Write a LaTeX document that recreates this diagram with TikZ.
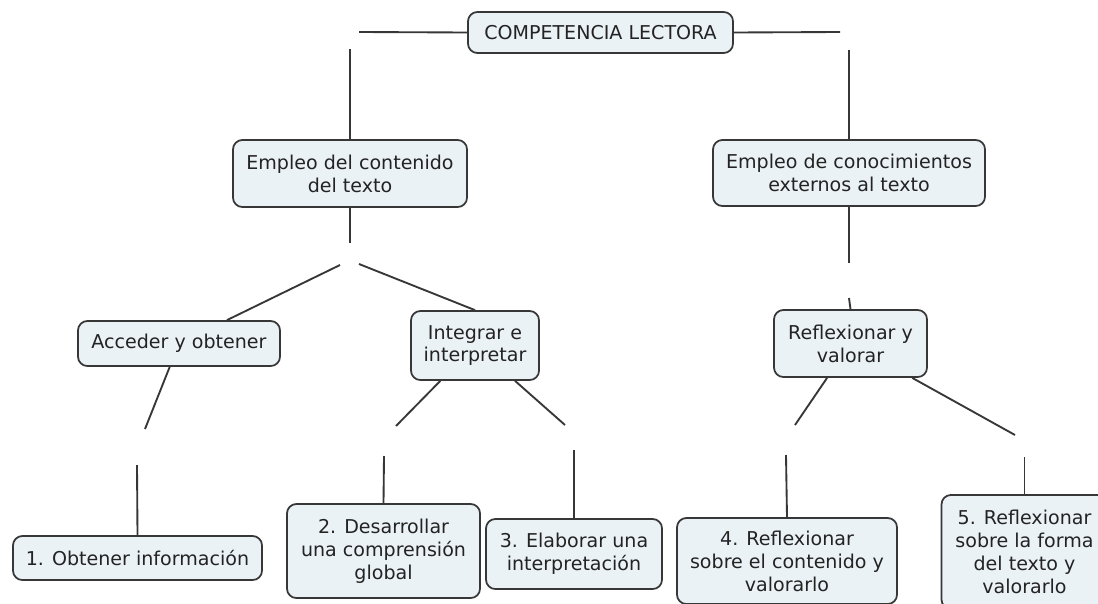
\documentclass[tikz,border=0pt]{standalone}
\usepackage{fontspec}
\setmainfont{DejaVu Sans}
\definecolor{boxfill}{RGB}{235,242,246}
\definecolor{boxline}{RGB}{55,55,55}
\definecolor{txt}{RGB}{35,35,35}
\begin{document}
\begin{tikzpicture}[x=0.75pt,y=-0.75pt,
  concept/.style={draw=boxline,fill=boxfill,line width=1.3pt,rounded corners=7pt,
    align=center,inner sep=0pt,text=txt,font=\fontsize{14.3}{17.2}\selectfont},
  link/.style={draw=boxline,line width=1.4pt}]
\useasboundingbox (0,0) rectangle (1098,603);
\fill[white] (0,0) rectangle (1098,603);
% concepts
\node[concept,minimum width=198.75pt,minimum height=30.75pt] (top) at (600.5,32.5) {COMPETENCIA LECTORA};
\node[concept,minimum width=175.5pt,minimum height=50.25pt] (emp1) at (350,173.5) {Empleo del contenido\\del texto};
\node[concept,minimum width=204pt,minimum height=49.5pt] (emp2) at (849,173) {Empleo de conocimientos\\externos al texto};
\node[concept,minimum width=151.5pt,minimum height=33.75pt] (acc) at (179,343.5) {Acceder y obtener};
\node[concept,minimum width=96pt,minimum height=51.75pt] (int) at (475,345.5) {Integrar e\\interpretar};
\node[concept,minimum width=114.75pt,minimum height=50.25pt] (ref) at (850.5,343.5) {Reflexionar y\\valorar};
\node[concept,minimum width=186.75pt,minimum height=33pt] (n1) at (137.5,558) {1. Obtener información};
\node[concept,minimum width=144.75pt,minimum height=70.5pt] (n2) at (383.5,551) {2. Desarrollar\\una comprensión\\global};
\node[concept,minimum width=132pt,minimum height=52.5pt] (n3) at (574,554) {3. Elaborar una\\interpretación};
\node[concept,minimum width=165pt,minimum height=64.5pt] (n4) at (787,561) {4. Reflexionar\\sobre el contenido y\\valorarlo};
\node[concept,minimum width=124.5pt,minimum height=85.5pt] (n5) at (1024.5,552) {5. Reflexionar\\sobre la forma\\del texto y\\valorarlo};
% free ends of connectors (empty linking phrases)
\coordinate (la1) at (359,32);
\coordinate (la2) at (350,49);
\coordinate (lb1) at (840,32);
\coordinate (lb2) at (849,50);
\coordinate (lc1) at (350,243);
\coordinate (lc2) at (340,265);
\coordinate (lc3) at (359,264);
\coordinate (ld1) at (849,263);
\coordinate (ld2) at (849,298);
\coordinate (le1) at (145,429);
\coordinate (le2) at (137,465);
\coordinate (lf1) at (396,426);
\coordinate (lf2) at (384,456);
\coordinate (lg1) at (565,425);
\coordinate (lg2) at (574,450);
\coordinate (lh1) at (795,425);
\coordinate (lh2) at (786,455);
\coordinate (li1) at (1015,435);
\coordinate (li2) at (1024.5,457);
% connectors
\draw[link] (top.west) -- (la1);
\draw[link] (la2) -- (emp1.north);
\draw[link] (top.east) -- (lb1);
\draw[link] (lb2) -- (emp2.north);
\draw[link] (emp1.south) -- (lc1);
\draw[link] (lc2) -- (acc);
\draw[link] (lc3) -- (int.north);
\draw[link] (emp2.south) -- (ld1);
\draw[link] (ld2) -- (ref.north);
\draw[link] (acc) -- (le1);
\draw[link] (le2) -- (n1.north);
\draw[link] (int) -- (lf1);
\draw[link] (lf2) -- (n2.north);
\draw[link] (int) -- (lg1);
\draw[link] (lg2) -- (n3.north);
\draw[link] (ref) -- (lh1);
\draw[link] (lh2) -- (n4.north);
\draw[link] (ref) -- (li1);
\draw[link] (li2) -- (n5.north);
\end{tikzpicture}
\end{document}
